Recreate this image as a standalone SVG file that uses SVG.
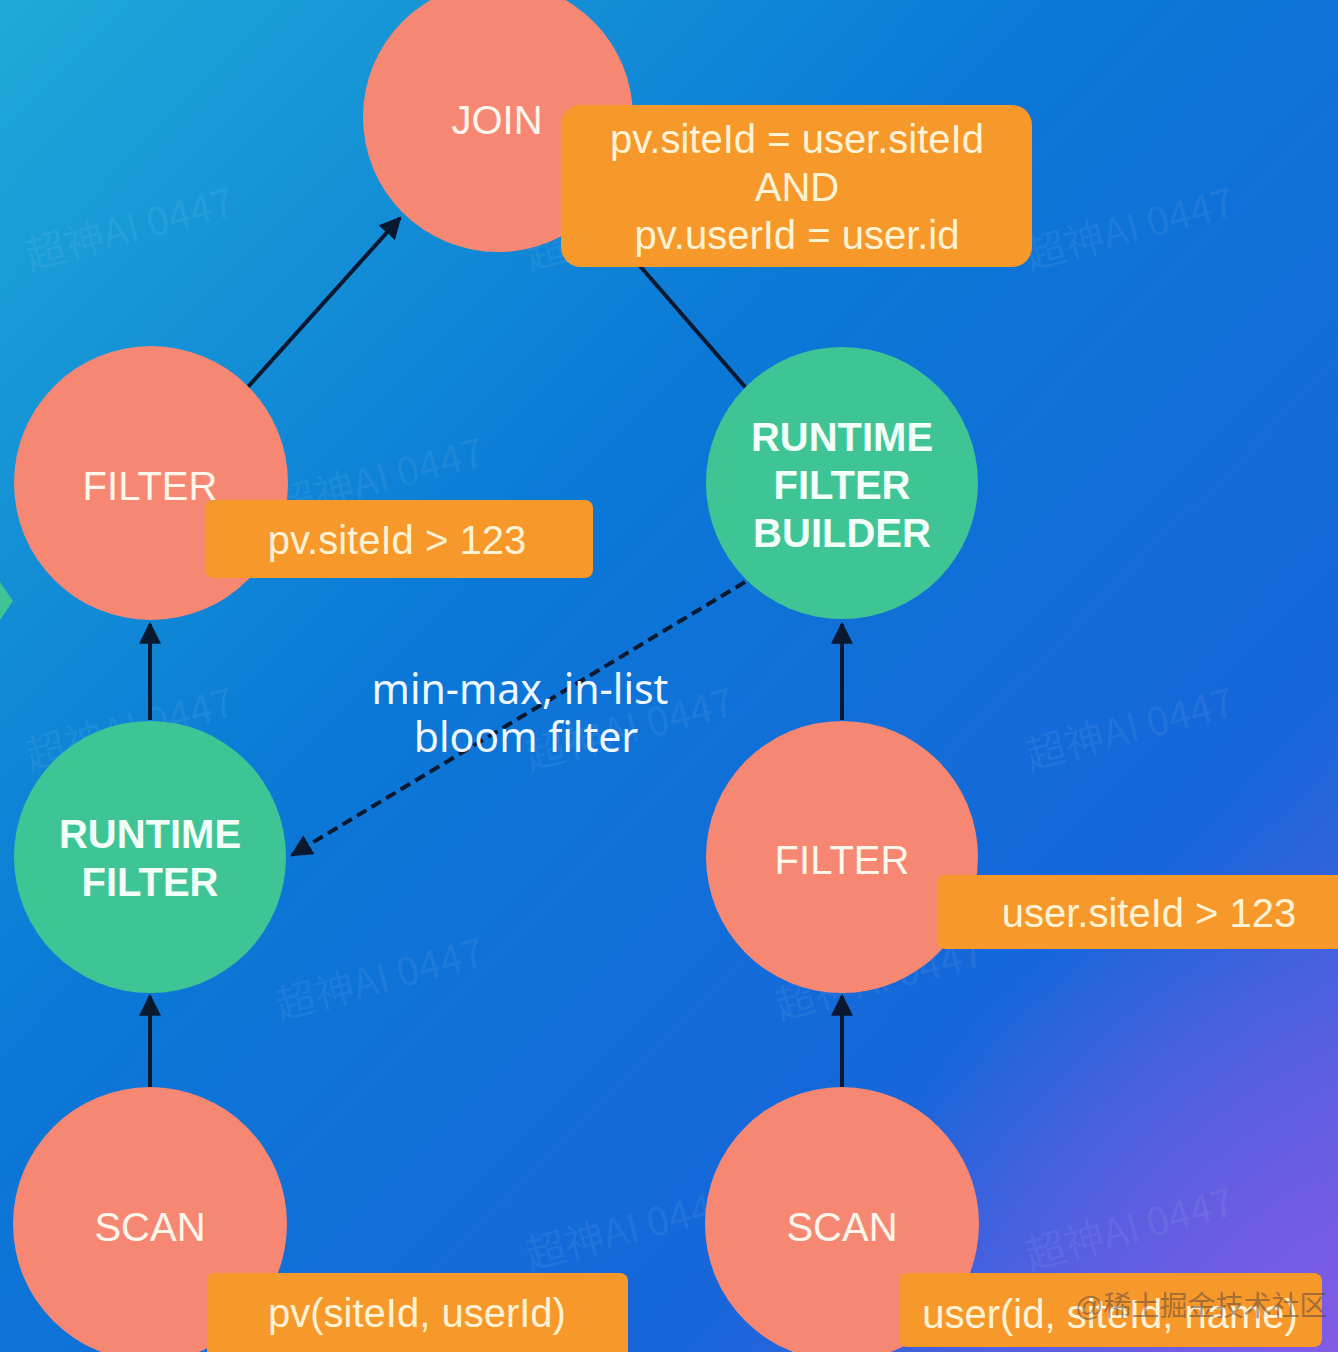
<svg xmlns="http://www.w3.org/2000/svg" width="1338" height="1352" viewBox="0 0 1338 1352">
<defs>
<linearGradient id="bg" x1="0" y1="0" x2="1" y2="1">
<stop offset="0" stop-color="#1eaad6"/>
<stop offset="0.4" stop-color="#0b78d6"/>
<stop offset="0.75" stop-color="#1766da"/>
<stop offset="1" stop-color="#6d5be2"/>
</linearGradient>
<radialGradient id="glow" cx="1338" cy="1352" r="500" gradientUnits="userSpaceOnUse">
<stop offset="0" stop-color="#8a5ce6" stop-opacity="0.7"/>
<stop offset="1" stop-color="#8a5ce6" stop-opacity="0"/>
</radialGradient>
<marker id="arr" viewBox="0 0 10 10" refX="9" refY="5" markerWidth="5.5" markerHeight="5.5" orient="auto" markerUnits="strokeWidth">
<path d="M0,0 L10,5 L0,10 z" fill="#0a1830"/>
</marker>
<style>
.op{fill:#f68873}
.rt{fill:#3fc595}
.lbl{fill:#f7982b}
.t{font-family:"Liberation Sans",Arial,sans-serif;font-size:40px;fill:#fff6ec;text-anchor:middle}
.b{font-weight:bold;fill:#f2fff8}
.lt{fill:#fff3d6}
.c{stroke:#0a1830;stroke-width:4;fill:none}
.d{stroke-dasharray:11 6}
.ml{font-family:"Noto Sans",sans-serif;font-size:41px;fill:#eef6ff;text-anchor:middle}
.wm{font-family:"Noto Sans CJK SC","Liberation Sans",sans-serif;font-size:40px;fill:#ffffff;fill-opacity:0.07}
</style>
</defs>
<rect width="1338" height="1352" fill="url(#bg)"/>
<rect width="1338" height="1352" fill="url(#glow)"/>
<g id="watermarks">
<text class="wm" transform="translate(30,270) rotate(-15)">超神AI 0447</text>
<text class="wm" transform="translate(530,270) rotate(-15)">超神AI 0447</text>
<text class="wm" transform="translate(1030,270) rotate(-15)">超神AI 0447</text>
<text class="wm" transform="translate(280,520) rotate(-15)">超神AI 0447</text>
<text class="wm" transform="translate(30,770) rotate(-15)">超神AI 0447</text>
<text class="wm" transform="translate(530,770) rotate(-15)">超神AI 0447</text>
<text class="wm" transform="translate(1030,770) rotate(-15)">超神AI 0447</text>
<text class="wm" transform="translate(280,1020) rotate(-15)">超神AI 0447</text>
<text class="wm" transform="translate(780,1020) rotate(-15)">超神AI 0447</text>
<text class="wm" transform="translate(530,1270) rotate(-15)">超神AI 0447</text>
<text class="wm" transform="translate(1030,1270) rotate(-15)">超神AI 0447</text>
</g>
<polygon points="0,582 13,601 0,620" fill="#3fc595"/>
<g id="connectors">
<line class="c" x1="247" y1="388" x2="400" y2="218" marker-end="url(#arr)"/>
<line class="c" x1="746" y1="388" x2="640" y2="266"/>
<line class="c" x1="150" y1="720" x2="150" y2="624" marker-end="url(#arr)"/>
<line class="c" x1="150" y1="1088" x2="150" y2="996" marker-end="url(#arr)"/>
<line class="c" x1="842" y1="720" x2="842" y2="624" marker-end="url(#arr)"/>
<line class="c" x1="842" y1="1088" x2="842" y2="996" marker-end="url(#arr)"/>
<line class="c d" x1="745" y1="582" x2="292" y2="855" marker-end="url(#arr)"/>
<text class="ml" x="520" y="704">min-max, in-list</text>
<text class="ml" x="526" y="752">bloom filter</text>
</g>
<g id="join">
<circle class="op" cx="498" cy="117" r="135"/>
<text class="t" x="497" y="134">JOIN</text>
<rect class="lbl" x="561" y="105" width="471" height="162" rx="20"/>
<text class="t lt" x="797" y="153">pv.siteId = user.siteId</text>
<text class="t lt" x="797" y="201">AND</text>
<text class="t lt" x="797" y="249">pv.userId = user.id</text>
</g>
<g id="filter-left">
<circle class="op" cx="151" cy="483" r="137"/>
<text class="t" x="150" y="500">FILTER</text>
<rect class="lbl" x="205" y="500" width="388" height="78" rx="8"/>
<text class="t lt" x="397" y="554">pv.siteId &gt; 123</text>
</g>
<g id="rf-builder">
<circle class="rt" cx="842" cy="483" r="136"/>
<text class="t b" x="842" y="451">RUNTIME</text>
<text class="t b" x="842" y="499">FILTER</text>
<text class="t b" x="842" y="547">BUILDER</text>
</g>
<g id="runtime-filter">
<circle class="rt" cx="150" cy="857" r="136"/>
<text class="t b" x="150" y="848">RUNTIME</text>
<text class="t b" x="150" y="896">FILTER</text>
</g>
<g id="filter-right">
<circle class="op" cx="842" cy="857" r="136"/>
<text class="t" x="842" y="874">FILTER</text>
<rect class="lbl" x="937" y="875" width="420" height="74" rx="8"/>
<text class="t lt" x="1149" y="927">user.siteId &gt; 123</text>
</g>
<g id="scan-left">
<circle class="op" cx="150" cy="1224" r="137"/>
<text class="t" x="150" y="1241">SCAN</text>
<rect class="lbl" x="207" y="1273" width="421" height="95" rx="8"/>
<text class="t lt" x="417" y="1327">pv(siteId, userId)</text>
</g>
<g id="scan-right">
<circle class="op" cx="842" cy="1224" r="137"/>
<text class="t" x="842" y="1241">SCAN</text>
<rect class="lbl" x="899" y="1273" width="423" height="74" rx="8"/>
<text class="t lt" x="1110" y="1328">user(id, siteId, name)</text>
</g>
<text x="1075" y="1316" style="font-family:'Liberation Sans','Noto Sans CJK SC',sans-serif;font-size:28px;fill:#5a4a40;fill-opacity:0.55">@稀土掘金技术社区</text>
</svg>
